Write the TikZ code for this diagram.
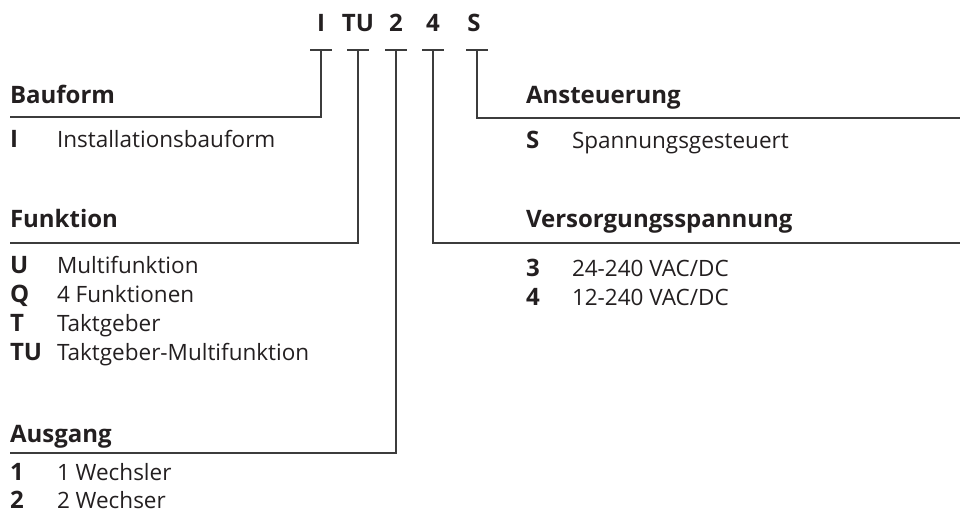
\documentclass[tikz,border=0pt]{standalone}
\usepackage{fontspec}
\setmainfont{Open Sans}
\definecolor{ink}{HTML}{231F20}
\definecolor{rule}{HTML}{3C3C3C}

\begin{document}
\begin{tikzpicture}
[
    x=1pt, y=-1pt,
    every node/.style={inner sep=0pt, outer sep=0pt, text=ink},
    code/.style={anchor=base, font=\fontsize{24}{28}\selectfont\bfseries},
    head/.style={anchor=base west, font=\fontsize{24}{28}\selectfont\bfseries},
    key/.style={anchor=base west, font=\fontsize{24}{28}\selectfont\bfseries},
    desc/.style={anchor=base west, font=\fontsize{22.5}{27}\selectfont},
    leader/.style={draw=rule, line width=1.3pt}
]
    \useasboundingbox (0,0) rectangle (960,522);

    % type code
    \node [code] (cI) at (321,31) {I};
    \node [code] (cTU) at (358,31) {TU};
    \node [code] (c2) at (396,31) {2};
    \node [code] (c4) at (433,31) {4};
    \node [code] (cS) at (474,31) {S};

    \foreach \c/\x in {I/321, TU/358, 2/396, 4/433, S/477} {
        \coordinate (t\c) at (\x,50);
        \draw [leader] ([xshift=-11pt]t\c) -- ([xshift=11pt]t\c);
    }

    % left column
    \node [head] (bauform) at (10,103) {Bauform};
    \coordinate (bauform-l) at (10,117);
    \node [key] (kI) at (10,147) {I};
    \node [desc] (dI) at (57,147) {Installationsbauform};

    \node [head] (funktion) at (10,227) {Funktion};
    \coordinate (funktion-l) at (10,243);
    \node [key] (kU) at (10,273) {U};
    \node [desc] (dU) at (57,273) {Multifunktion};
    \node [key] (kQ) at (10,302) {Q};
    \node [desc] (dQ) at (57,302) {4 Funktionen};
    \node [key] (kT) at (10,331) {T};
    \node [desc] (dT) at (57,331) {Taktgeber};
    \node [key] (kTU) at (10,360) {TU};
    \node [desc] (dTU) at (57,360) {Taktgeber-Multifunktion};

    \node [head] (ausgang) at (10,442) {Ausgang};
    \coordinate (ausgang-l) at (10,453);
    \node [key] (k1) at (10,480) {1};
    \node [desc] (d1) at (57,480) {1 Wechsler};
    \node [key] (k2) at (10,508) {2};
    \node [desc] (d2) at (57,508) {2 Wechser};

    % right column
    \node [head] (ansteuerung) at (526,103) {Ansteuerung};
    \coordinate (ansteuerung-r) at (960,118);
    \node [key] (kS) at (526,148) {S};
    \node [desc] (dS) at (572,148) {Spannungsgesteuert};

    \node [head] (versorgung) at (526,227) {Versorgungsspannung};
    \coordinate (versorgung-r) at (960,243);
    \node [key] (k3) at (526,276) {3};
    \node [desc] (d3) at (572,276) {24-240 VAC/DC};
    \node [key] (k4) at (526,305) {4};
    \node [desc] (d4) at (572,305) {12-240 VAC/DC};

    % leaders
    \draw [leader] (tI) |- (bauform-l);
    \draw [leader] (tTU) |- (funktion-l);
    \draw [leader] (t2) |- (ausgang-l);
    \draw [leader] (t4) |- (versorgung-r);
    \draw [leader] (tS) |- (ansteuerung-r);
\end{tikzpicture}
\end{document}
